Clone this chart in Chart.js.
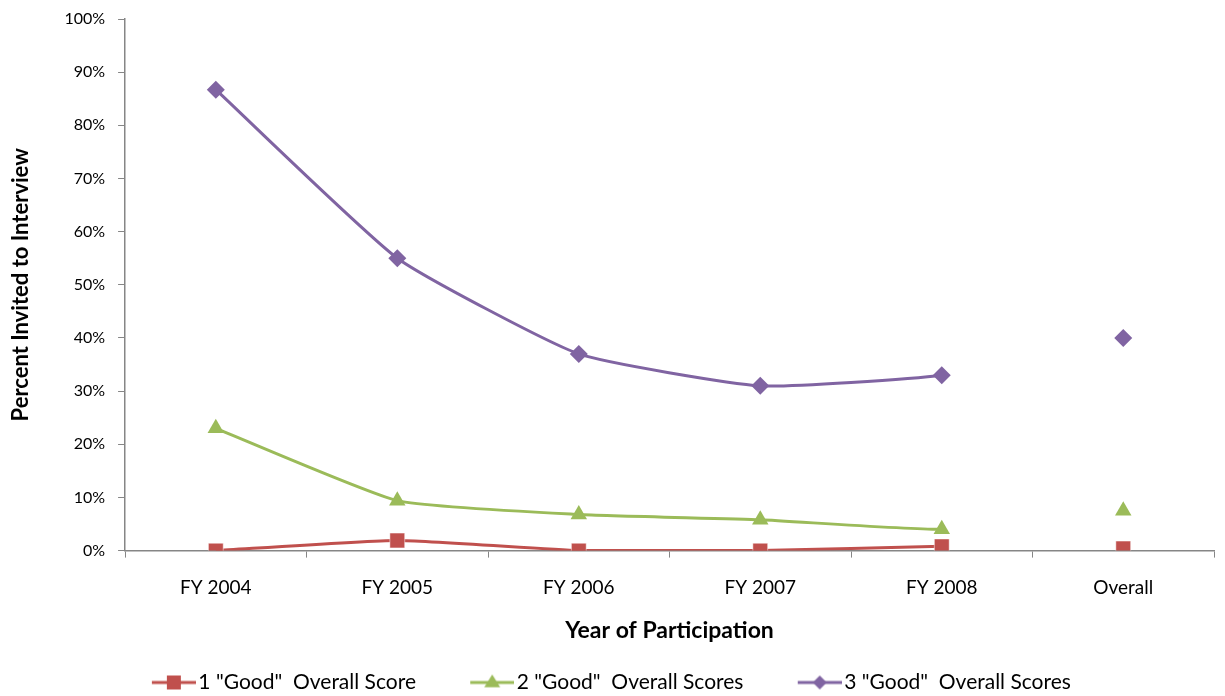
<!DOCTYPE html>
<html lang="en">
<head>
  <meta charset="UTF-8" />
  <title>Percent Invited to Interview</title>
  <script src="https://cdn.jsdelivr.net/npm/chart.js"></script>
  <style>
    body { margin: 0; background: #ffffff; }
    #chart { display: block; }
  </style>
</head>
<body>
  <canvas id="chart" width="1225" height="696"></canvas>

  <script>
    const years = ["FY 2004", "FY 2005", "FY 2006", "FY 2007", "FY 2008", "Overall"];
    const oneGood = [0, 1.9, 0, 0, 0.8, 0.4];
    const twoGood = [23, 9.4, 6.8, 5.8, 4.0, 7.5];
    const threeGood = [86.7, 55, 37, 31, 33, 40];
    const seriesNames = ['1 "Good"  Overall Score', '2 "Good"  Overall Scores', '3 "Good"  Overall Scores'];

    const red = '#C0504D', green = '#9BBB59', purple = '#8064A2';
    const axisGray = '#868686';
    const font = "Lato, 'Open Sans', sans-serif";

    // "Overall" is a separate point, not joined to FY 2008
    const hideLast = color => ({
      borderColor: ctx => ctx.p1DataIndex === years.length - 1 ? 'transparent' : color
    });

    // legend swatch: blank lead-in, then a short line with the marker on it.
    // the image is a bit wider than the legend box so the line runs up to the text
    const lead = 8, over = 8, boxW = lead + 46;
    function swatch(color, style, r) {
      const c = document.createElement('canvas');
      c.width = boxW + 2 * over; c.height = 20;
      const g = c.getContext('2d');
      const x1 = c.width, x0 = x1 - 44;
      const cx = (x0 + x1) / 2, cy = 10;
      g.strokeStyle = color; g.lineWidth = 3;
      g.beginPath(); g.moveTo(x0, cy); g.lineTo(x1, cy); g.stroke();
      g.fillStyle = color;
      g.beginPath();
      if (style === 'rect') {
        g.rect(cx - r, cy - r, 2 * r, 2 * r);
      } else if (style === 'triangle') {
        g.moveTo(cx, cy - r); g.lineTo(cx + r, cy + r * 0.6); g.lineTo(cx - r, cy + r * 0.6); g.closePath();
      } else {
        g.moveTo(cx, cy - r); g.lineTo(cx + r, cy); g.lineTo(cx, cy + r); g.lineTo(cx - r, cy); g.closePath();
      }
      g.fill();
      return c;
    }
    const swatches = [swatch(red, 'rect', 7), swatch(green, 'triangle', 8), swatch(purple, 'diamond', 7)];

    new Chart(document.getElementById('chart'), {
      type: 'line',
      data: {
        labels: years,
        datasets: [
          {
            label: seriesNames[0], data: oneGood,
            borderColor: red, backgroundColor: red, borderWidth: 3,
            pointStyle: 'rect', pointRadius: 10.5, pointHoverRadius: 10.5,
            pointBorderColor: '#ffffff', pointBorderWidth: 0.5,
            segment: hideLast(red), tension: 0.15
          },
          {
            label: seriesNames[1], data: twoGood,
            borderColor: green, backgroundColor: green, borderWidth: 3,
            pointStyle: 'triangle', pointRadius: 9.5, pointHoverRadius: 9.5,
            pointBorderWidth: 0,
            segment: hideLast(green), tension: 0.15
          },
          {
            label: seriesNames[2], data: threeGood,
            borderColor: purple, backgroundColor: purple, borderWidth: 3,
            pointStyle: 'rectRot', pointRadius: 9, pointHoverRadius: 9,
            pointBorderWidth: 0,
            segment: hideLast(purple), tension: 0.15
          }
        ]
      },
      options: {
        responsive: false,
        animation: false,
        layout: { padding: { top: 19, right: 2, left: 8, bottom: -7 } },
        scales: {
          x: {
            offset: true,
            grid: { display: true, drawOnChartArea: false, offset: true, tickLength: 7, color: axisGray },
            border: { color: axisGray, width: 1.5 },
            ticks: { color: '#000', font: { family: font, size: 19 }, padding: 19, maxRotation: 0 },
            title: {
              display: true, text: 'Year of Participation', color: '#000',
              font: { family: font, size: 23, weight: 'bold' }, padding: { top: -2, bottom: 18 }
            }
          },
          y: {
            min: 0, max: 100,
            afterFit: scale => { scale.paddingTop = 0; },
            ticks: { stepSize: 10, callback: v => v + '%', color: '#000', font: { family: font, size: 16 }, padding: 13 },
            grid: { display: true, drawOnChartArea: false, tickLength: 7, color: axisGray },
            border: { color: axisGray, width: 1.5 },
            title: {
              display: true, text: 'Percent Invited to Interview', color: '#000',
              font: { family: font, size: 22, weight: 'bold' }, padding: { top: 0, bottom: 17 }
            }
          }
        },
        plugins: {
          tooltip: { enabled: false },
          legend: {
            position: 'bottom',
            labels: {
              usePointStyle: true,
              pointStyleWidth: boxW,
              color: '#000',
              font: { family: font, size: 21 },
              padding: 10,
              // trailing space balances the blank lead-in of each swatch
              generateLabels: chart => chart.data.datasets.map((ds, i) => ({
                text: ds.label + '\u2003\u2002',
                pointStyle: swatches[i],
                fillStyle: ds.borderColor,
                strokeStyle: ds.borderColor,
                lineWidth: 0,
                datasetIndex: i
              }))
            }
          }
        }
      }
    });
  </script>
</body>
</html>
